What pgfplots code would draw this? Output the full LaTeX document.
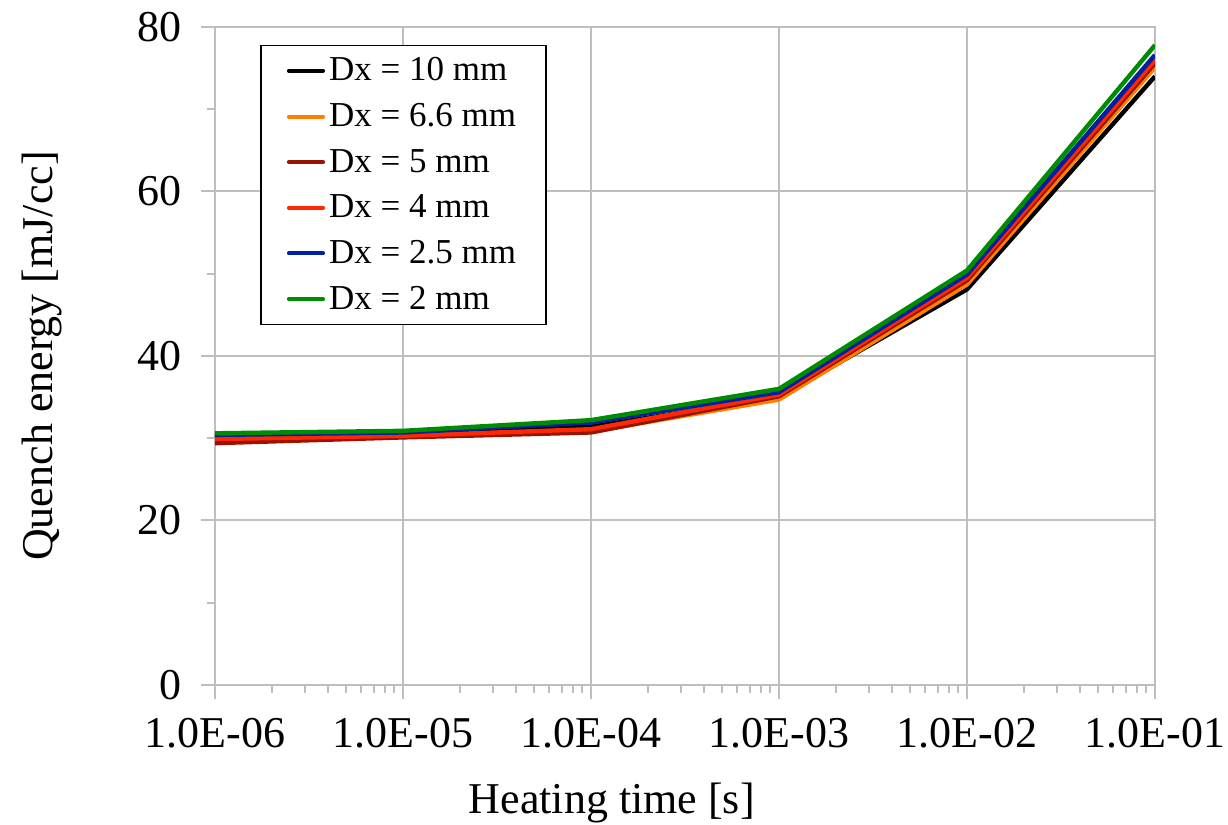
\documentclass[border=0pt]{standalone}
\usepackage{fontspec}
\setmainfont{Liberation Serif}
\usepackage{pgfplots}
\pgfplotsset{compat=1.18}
\definecolor{gridgray}{RGB}{190,190,190}
\definecolor{cOrange}{RGB}{255,128,0}
\definecolor{cDarkRed}{RGB}{150,20,0}
\definecolor{cRed}{RGB}{255,40,0}
\definecolor{cBlue}{RGB}{0,32,160}
\definecolor{cGreen}{RGB}{0,140,0}
\begin{document}
\begin{tikzpicture}
\begin{axis}[
    scale only axis,
    width=470pt, height=329pt,
    xmode=log,
    xmin=1e-6, xmax=1e-1,
    ymin=0, ymax=80,
    xtick={1e-6,1e-5,1e-4,1e-3,1e-2,1e-1},
    xticklabels={1.0E-06,1.0E-05,1.0E-04,1.0E-03,1.0E-02,1.0E-01},
    ytick={0,20,40,60,80},
    minor ytick={10,30,50,70},
    grid=major,
    major grid style={gridgray, line width=1pt},
    axis line style={gridgray, line width=1pt},
    tick style={gridgray, line width=1pt},
    tick align=outside,
    major tick length=7pt,
    minor tick length=4pt,
    xtick pos=bottom, ytick pos=left,
    font=\fontsize{22}{26}\selectfont,
    /pgf/number format/assume math mode=true,
    xticklabel style={anchor=north, yshift=-6pt},
    yticklabel style={anchor=east, xshift=-6pt},
    xlabel={Heating time [s]},
    ylabel={Quench energy [mJ/cc]},
    xlabel style={at={(axis description cs:0.422,-0.18)}, anchor=center},
    ylabel style={at={(axis description cs:-0.184,0.5)}, anchor=center, rotate=0},
    legend style={at={(0.048,0.973)}, anchor=north west, draw=black, line width=0.8pt,
        font=\fontsize{17.5}{21}\selectfont, row sep=5.8pt,
        inner xsep=13pt, inner ysep=4pt},
    legend cell align=left,
    legend image code/.code={\draw[#1, line width=2pt, line cap=round] (0cm,0cm) -- (0.6cm,0cm);},
    every axis plot/.append style={line width=2.2pt},
]
\addplot[black] coordinates {(1e-6,30.2) (1e-5,30.5) (1e-4,31.4) (1e-3,35.0) (1e-2,48.1) (1e-1,74.0)};
\addlegendentry{Dx = 10 mm}
\addplot[cOrange] coordinates {(1e-6,29.9) (1e-5,30.2) (1e-4,30.8) (1e-3,34.7) (1e-2,48.7) (1e-1,75.1)};
\addlegendentry{Dx = 6.6 mm}
\addplot[cDarkRed] coordinates {(1e-6,29.4) (1e-5,30.1) (1e-4,30.7) (1e-3,35.1) (1e-2,49.2) (1e-1,75.6)};
\addlegendentry{Dx = 5 mm}
\addplot[cRed] coordinates {(1e-6,29.9) (1e-5,30.3) (1e-4,31.1) (1e-3,35.3) (1e-2,49.5) (1e-1,76.0)};
\addlegendentry{Dx = 4 mm}
\addplot[cBlue] coordinates {(1e-6,30.4) (1e-5,30.7) (1e-4,31.9) (1e-3,35.6) (1e-2,49.9) (1e-1,76.6)};
\addlegendentry{Dx = 2.5 mm}
\addplot[cGreen] coordinates {(1e-6,30.6) (1e-5,30.9) (1e-4,32.2) (1e-3,36.0) (1e-2,50.4) (1e-1,77.8)};
\addlegendentry{Dx = 2 mm}
\end{axis}
\pgfresetboundingbox
\path[use as bounding box] ([shift={(-107.5pt,-70pt)}]current axis.south west) rectangle ([shift={(36.5pt,13.5pt)}]current axis.north east);
\end{tikzpicture}
\end{document}
